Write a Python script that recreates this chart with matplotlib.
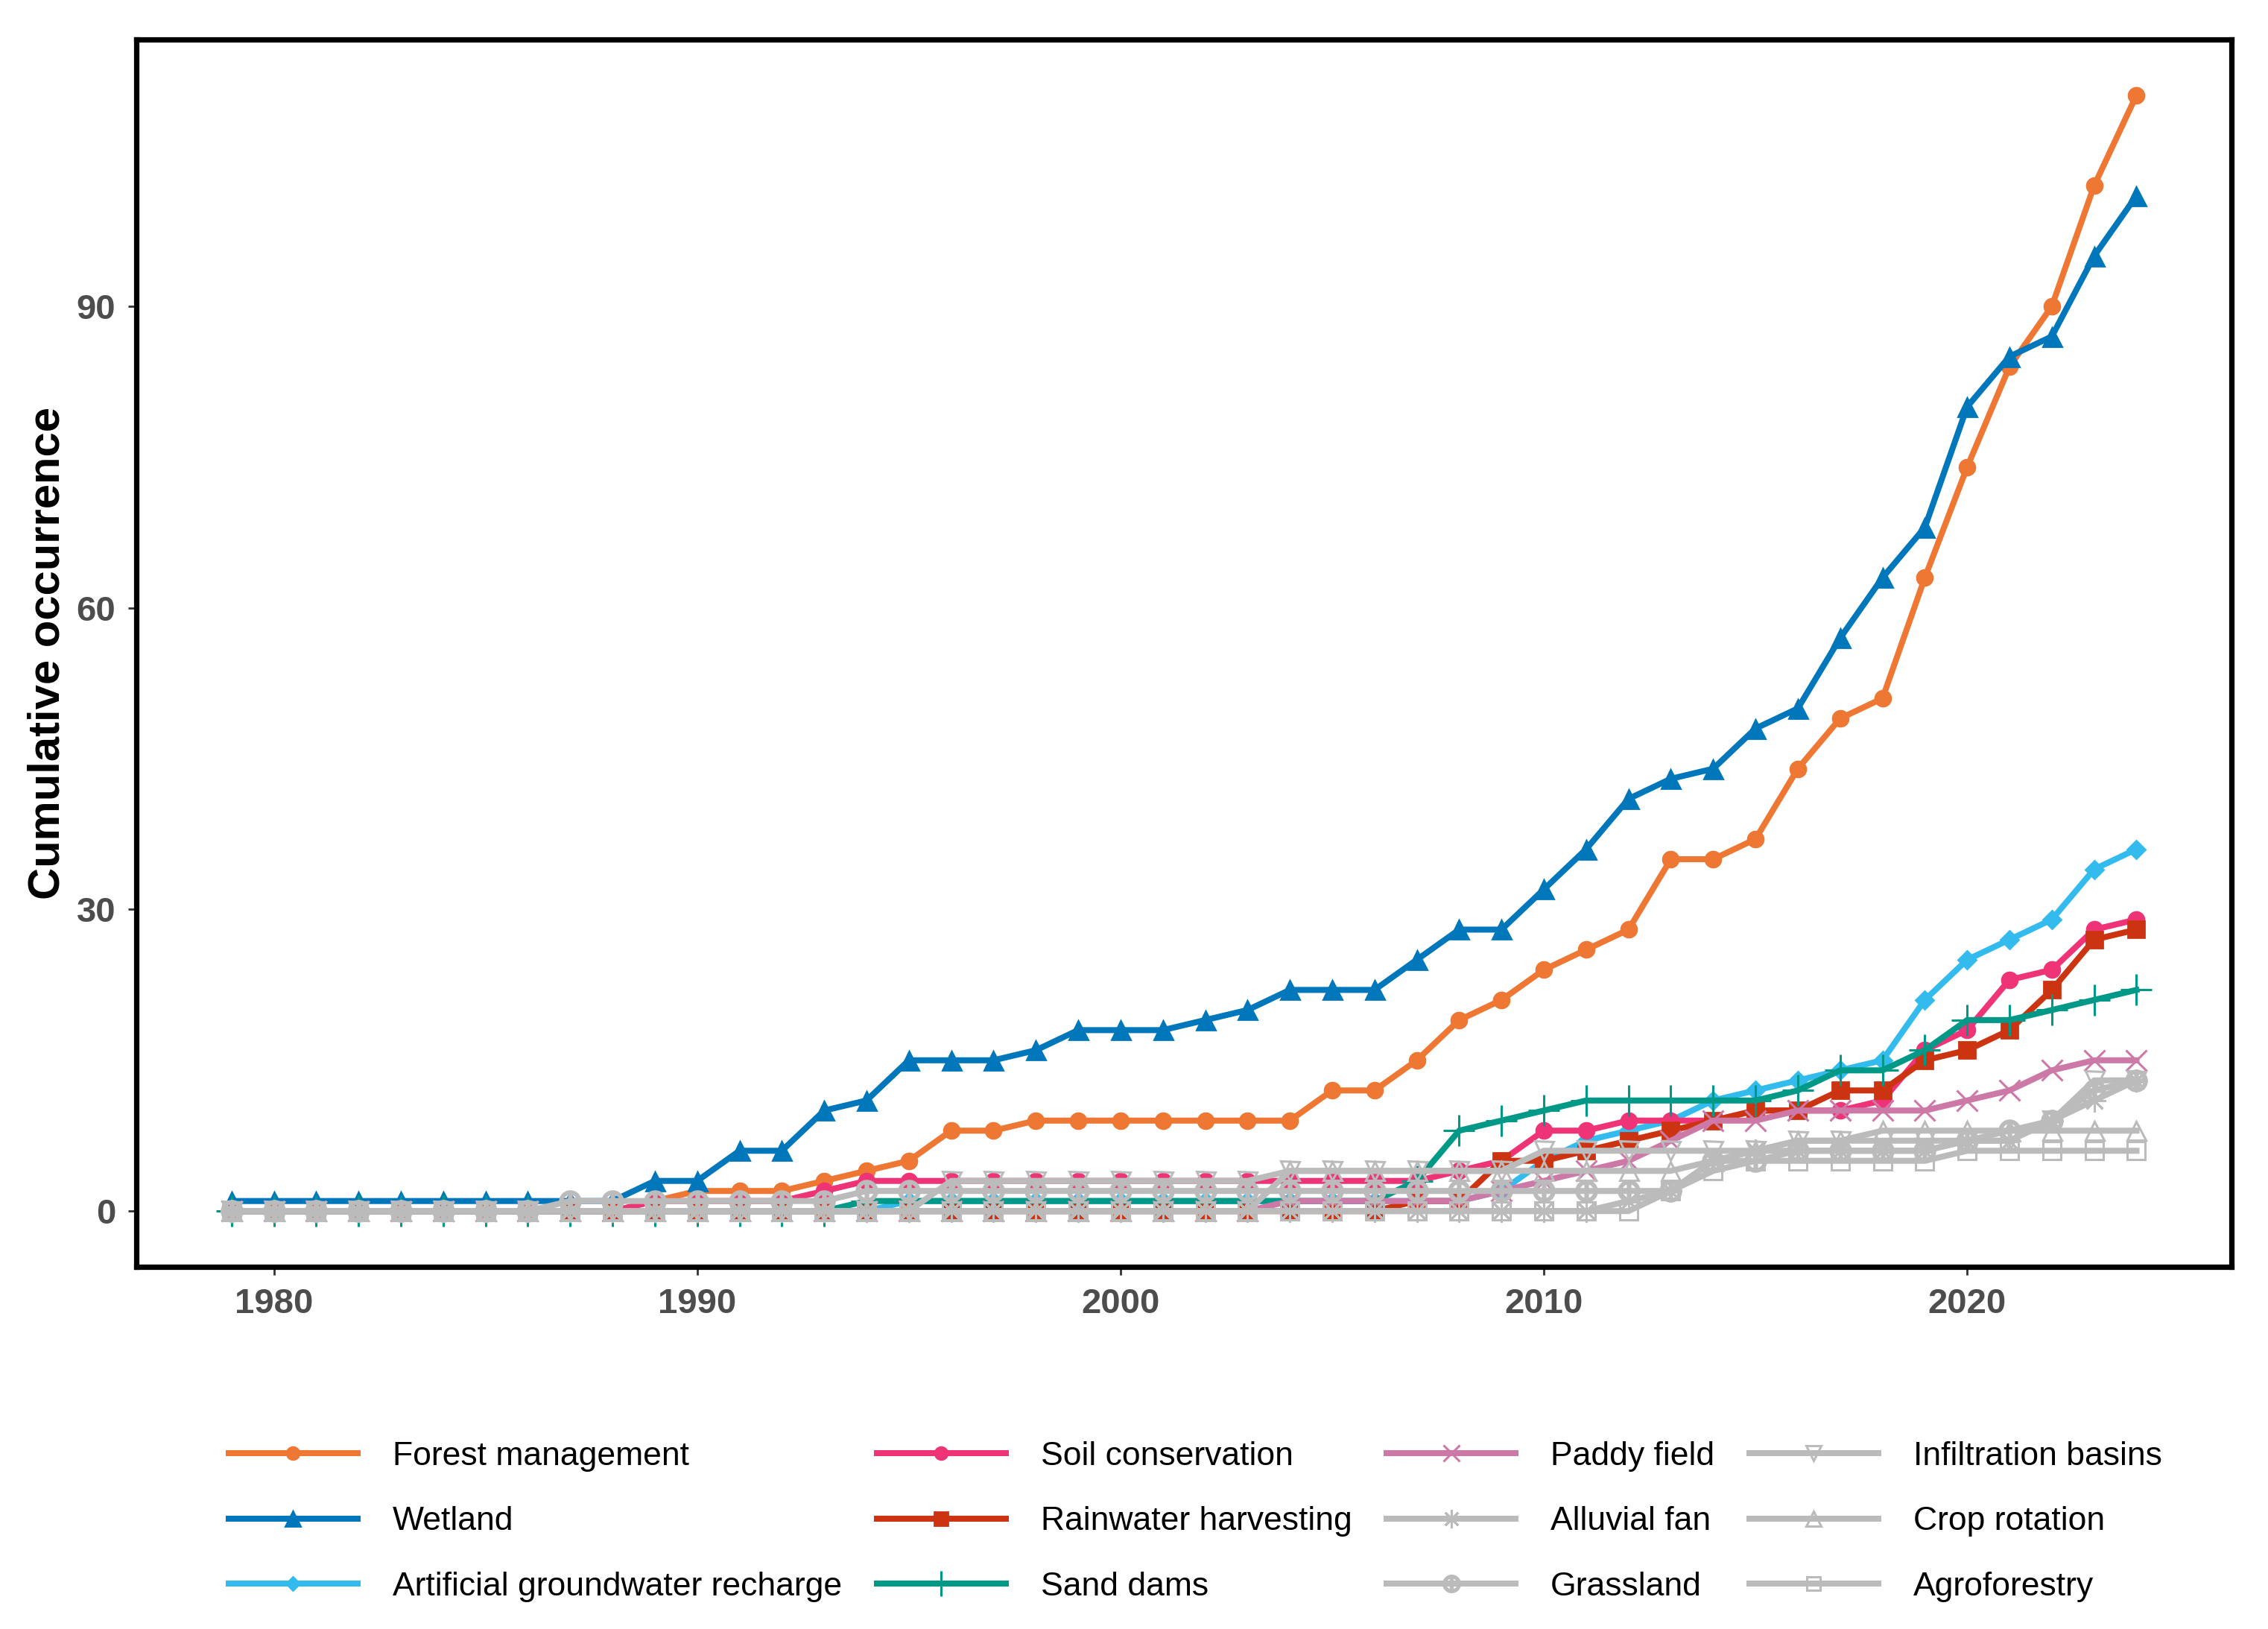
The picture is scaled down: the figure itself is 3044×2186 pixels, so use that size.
import numpy as np
import matplotlib
matplotlib.use('Agg')
import matplotlib.pyplot as plt

plt.rcParams['font.family'] = ['Liberation Sans', 'DejaVu Sans']

years = list(range(1979, 2025))

forest_management = [0]*10 + [1, 2, 2, 2, 3, 4, 5, 8, 8, 9, 9, 9, 9, 9, 9, 9, 12, 12, 15, 19,
                              21, 24, 26, 28, 35, 35, 37, 44, 49, 51, 63, 74, 84, 90, 102, 111]
wetland = [1]*10 + [3, 3, 6, 6, 10, 11, 15, 15, 15, 16, 18, 18, 18, 19, 20, 22, 22, 22, 25, 28,
                    28, 32, 36, 41, 43, 44, 48, 50, 57, 63, 68, 80, 85, 87, 95, 101]
artificial_recharge = [0]*16 + [1]*14 + [2, 5, 7, 8, 9, 11, 12, 13, 14, 15, 21, 25, 27, 29, 34, 36]
soil_conservation = [0]*10 + [1]*4 + [2] + [3]*14 + [4, 5, 8, 8, 9, 9, 9, 10, 10, 10, 11, 16,
                                                  18, 23, 24, 28, 29]
rainwater_harvesting = [0]*28 + [1, 1, 5, 5, 6, 7, 8, 9, 10, 10, 12, 12, 15, 16, 18, 22, 27, 28]
sand_dams = [0]*15 + [1]*13 + [3, 8, 9, 10, 11, 11, 11, 11, 11, 12, 14, 14, 16, 19, 19, 20, 21, 22]
paddy_field = [0]*25 + [1]*5 + [2, 3, 4, 5, 7, 9, 9, 10, 10, 10, 10, 11, 12, 14, 15, 15]
alluvial_fan = [0]*33 + [1, 2, 5, 6, 6, 6, 6, 6, 7, 7, 9, 11, 13]
grassland = [0]*8 + [1]*7 + [2]*20 + [5, 5, 6, 6, 6, 6, 7, 8, 9, 12, 13]
infiltration_basins = [0]*17 + [3]*8 + [4]*6 + [6]*6 + [7]*6 + [9, 13, 13]
crop_rotation = [0]*25 + [4]*10 + [5, 6, 7, 7, 8, 8, 8, 8, 8, 8, 8]
agroforestry = [0]*34 + [2, 4, 5, 5, 5, 5, 5, 6, 6, 6, 6, 6]

grey = '#BBBBBB'
# name, values, colour, marker, filled, marker size
series = [
    ('Forest management', forest_management, '#EE7733', 'o', True, 7.5),
    ('Wetland', wetland, '#0077BB', '^', True, 9),
    ('Artificial groundwater recharge', artificial_recharge, '#33BBEE', 'D', True, 6),
    ('Soil conservation', soil_conservation, '#EE3377', 'o', True, 7.5),
    ('Rainwater harvesting', rainwater_harvesting, '#CC3311', 's', True, 8),
    ('Sand dams', sand_dams, '#009988', '+', False, 15),
    ('Paddy field', paddy_field, '#CC79A7', 'x', False, 10),
    ('Alluvial fan', alluvial_fan, grey, (8, 2, 0), False, 11),
    ('Grassland', grassland, grey, r'$\oplus$', True, 10),
    ('Infiltration basins', infiltration_basins, grey, 'v', False, 9),
    ('Crop rotation', crop_rotation, grey, '^', False, 9),
    ('Agroforestry', agroforestry, grey, 's', False, 8.5),
]

fig = plt.figure(figsize=(15.22, 10.93), dpi=200)
ax = fig.add_axes([0.0601, 0.2223, 0.9239, 0.7535])

for i, (name, vals, col, mk, filled, ms) in enumerate(series):
    if filled:
        ax.plot(years, vals, color=col, lw=2.9, marker=mk, markersize=ms,
                markerfacecolor=col, markeredgecolor=col, label=name, zorder=2 + i * 0.1)
    else:
        ax.plot(years, vals, color=col, lw=2.9, marker=mk, markersize=ms,
                markerfacecolor='none', markeredgecolor=col, markeredgewidth=1.1,
                label=name, zorder=2 + i * 0.1)

ax.set_xlim(1976.75, 2026.25)
ax.set_ylim(-5.55, 116.55)
ax.set_xticks([1980, 1990, 2000, 2010, 2020])
ax.set_yticks([0, 30, 60, 90])
for s in ax.spines.values():
    s.set_linewidth(2.6)
    s.set_color('black')
ax.tick_params(axis='both', length=4, width=1, color='#333333', labelsize=17,
               labelcolor='#4D4D4D', pad=6)
for lab in ax.get_xticklabels() + ax.get_yticklabels():
    lab.set_fontweight('bold')
ax.set_ylabel('Cumulative occurrence', fontsize=21.5, fontweight='bold', color='black', labelpad=4)

handles, labels = ax.get_legend_handles_labels()
fig.legend(handles, labels, loc='center', bbox_to_anchor=(0.527, 0.066), ncol=4,
           frameon=False, fontsize=16, handlelength=3.9, handletextpad=1.05,
           columnspacing=1.05, labelspacing=1.05, markerscale=0.8)

fig.savefig('out.png', dpi=200)
